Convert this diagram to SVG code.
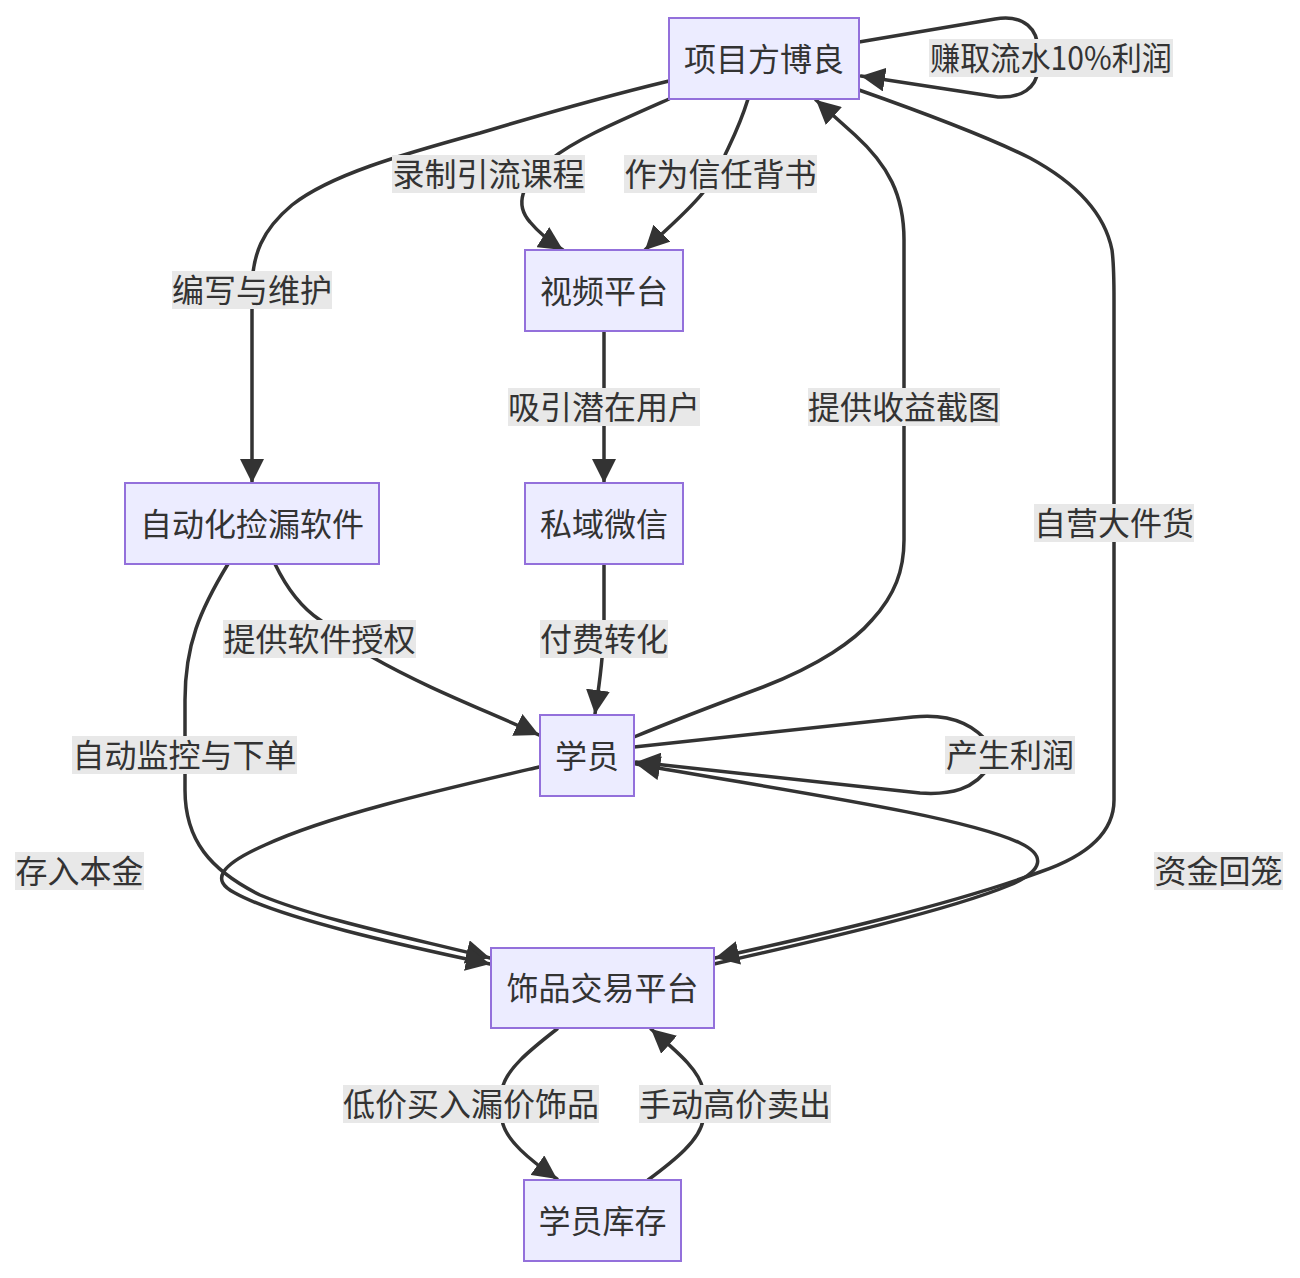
<svg xmlns="http://www.w3.org/2000/svg" width="1300" height="1278" viewBox="0 0 1300 1278">
<defs>
<style>
.edge{fill:none;stroke:#333333;stroke-width:3.5;stroke-linecap:round;stroke-linejoin:round}
.arr{marker-end:url(#ah)}
.node rect{fill:#ECECFF;stroke:#9370DB;stroke-width:2}
.node text,.lbl text{font-family:"Noto Sans CJK SC","Noto Sans",sans-serif;font-size:32px;fill:#333333;text-anchor:middle;dominant-baseline:central}
.lbl rect{fill:#e8e8e8}
</style>
<marker id="ah" viewBox="0 0 10 10" refX="10" refY="5" markerWidth="24" markerHeight="24" markerUnits="userSpaceOnUse" orient="auto">
<path d="M0,0 L10,5 L0,10 z" fill="#333333"/>
</marker>
</defs>
<rect width="1300" height="1278" fill="#ffffff"/>
<g id="connectors">
<path class="edge arr" d="M859,42 L995,19 C1025,14 1038,30 1038,50 L1038,70 C1036,88 1022,98 998,97 L861,76"/>
<path class="edge arr" d="M669,81 C590,100 530,118 480,133 C400,155 330,175 292,205 C262,230 252,255 252,290 L252,483"/>
<path class="edge arr" d="M669,99 C610,125 575,140 550,160 C520,185 515,205 530,222 C540,234 552,243 563,250"/>
<path class="edge arr" d="M748,99 C740,125 732,140 725,155 L705,190 C690,210 665,230 645,250"/>
<path class="edge arr" d="M604,331 L604,483"/>
<path class="edge arr" d="M604,564 L604,620 C604,660 598,690 595,714"/>
<path class="edge arr" d="M275,564 C290,595 305,610 320,620 L372,657 C430,690 490,712 539,735"/>
<path class="edge arr" d="M228,564 C200,610 185,645 185,700 L185,790 C185,840 210,870 260,895 C320,920 420,940 490,958"/>
<path class="edge arr" d="M539,767 C440,790 330,815 265,845 C220,865 210,880 235,893 C280,918 400,945 490,964"/>
<path class="edge arr" d="M634,747 L913,717 C950,713 975,725 990,745 L990,765 C975,790 950,795 920,793 L636,762"/>
<path class="edge arr" d="M714,964 C820,940 950,910 1010,885 C1045,870 1045,855 1020,843 C960,815 780,790 636,764"/>
<path class="edge arr" d="M859,90 C930,115 990,138 1030,158 C1080,185 1105,215 1112,250 C1114,265 1114,280 1114,300 L1114,800 C1114,830 1090,855 1040,872 C950,905 820,935 715,958"/>
<path class="edge arr" d="M634,737 C680,718 720,703 763,687 C820,665 855,640 872,620 C895,595 904,570 904,540 L904,240 C904,195 888,165 855,135 L816,100"/>
<path class="edge arr" d="M557,1029 C530,1050 505,1070 502,1090 L502,1120 C505,1140 530,1160 557,1179"/>
<path class="edge arr" d="M648,1180 C675,1160 700,1140 703,1120 L703,1090 C700,1070 675,1050 651,1029"/>
</g>
<g id="edge-labels">
<g class="lbl"><rect x="929" y="39" width="244" height="38"/><text x="1051" y="56" textLength="242" lengthAdjust="spacingAndGlyphs">赚取流水10%利润</text></g>
<g class="lbl"><rect x="392" y="155" width="193" height="38"/><text x="488.5" y="172">录制引流课程</text></g>
<g class="lbl"><rect x="624" y="155" width="193" height="38"/><text x="720.5" y="172">作为信任背书</text></g>
<g class="lbl"><rect x="172" y="271" width="160" height="38"/><text x="252" y="288">编写与维护</text></g>
<g class="lbl"><rect x="508" y="388" width="192" height="38"/><text x="604" y="405">吸引潜在用户</text></g>
<g class="lbl"><rect x="808" y="388" width="192" height="38"/><text x="904" y="405">提供收益截图</text></g>
<g class="lbl"><rect x="1034" y="504" width="160" height="38"/><text x="1114" y="521">自营大件货</text></g>
<g class="lbl"><rect x="223" y="620" width="193" height="38"/><text x="319.5" y="637">提供软件授权</text></g>
<g class="lbl"><rect x="540" y="620" width="128" height="38"/><text x="604" y="637">付费转化</text></g>
<g class="lbl"><rect x="72" y="736" width="225" height="38"/><text x="184.5" y="753">自动监控与下单</text></g>
<g class="lbl"><rect x="945" y="736" width="130" height="38"/><text x="1010" y="753">产生利润</text></g>
<g class="lbl"><rect x="15" y="852" width="129" height="38"/><text x="79.5" y="869">存入本金</text></g>
<g class="lbl"><rect x="1154" y="852" width="129" height="38"/><text x="1218.5" y="869">资金回笼</text></g>
<g class="lbl"><rect x="343" y="1085" width="256" height="38"/><text x="471" y="1102">低价买入漏价饰品</text></g>
<g class="lbl"><rect x="639" y="1085" width="192" height="38"/><text x="735" y="1102">手动高价卖出</text></g>
</g>
<g id="node-xmfbl" class="node"><rect x="669" y="18" width="190" height="81"/><text x="764" y="56.5">项目方博良</text></g>
<g id="node-sppt" class="node"><rect x="525" y="250" width="158" height="81"/><text x="604" y="288.5">视频平台</text></g>
<g id="node-zdhjlrj" class="node"><rect x="125" y="483" width="254" height="81"/><text x="252" y="521.5">自动化捡漏软件</text></g>
<g id="node-sywx" class="node"><rect x="525" y="483" width="158" height="81"/><text x="604" y="521.5">私域微信</text></g>
<g id="node-xy" class="node"><rect x="540" y="715" width="94" height="81"/><text x="587" y="753.5">学员</text></g>
<g id="node-spjypt" class="node"><rect x="491" y="948" width="223" height="80"/><text x="602.5" y="986">饰品交易平台</text></g>
<g id="node-xykc" class="node"><rect x="524" y="1180" width="157" height="81"/><text x="602.5" y="1218.5">学员库存</text></g>
</svg>
